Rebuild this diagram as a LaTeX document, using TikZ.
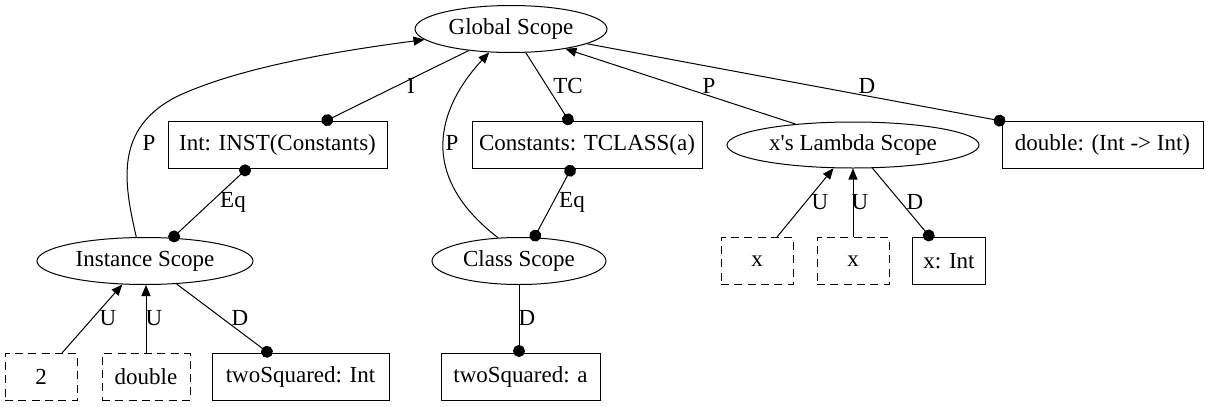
\documentclass[tikz,border=0pt]{standalone}
\usepackage{fontspec}
\setmainfont{Liberation Serif}[Ligatures=TeXOff]
\usetikzlibrary{shapes.geometric,arrows.meta}
\begin{document}
\begin{tikzpicture}[x=1pt,y=-1pt,
  every node/.style={font=\fontsize{23}{25}\selectfont},
  ell/.style={ellipse, draw, line width=1pt, minimum height=47pt, inner sep=0pt},
  box/.style={rectangle, draw, line width=1pt, minimum height=47pt, inner sep=0pt},
  dbox/.style={box, dash pattern=on 8pt off 5.3pt},
  lab/.style={inner sep=0pt},
  edge/.style={line width=1pt},
  tri/.style={edge, -{Triangle[length=11pt,width=9pt]}},
  dotend/.style={edge, shorten >=-4pt, -{Circle[length=12pt,width=12pt]}},
  dotboth/.style={edge, shorten >=-4pt, shorten <=-4pt, {Circle[length=12pt,width=12pt]}-{Circle[length=12pt,width=12pt]}}
]
\useasboundingbox (0,0) rectangle (1208,407);
% nodes
\node[ell, minimum width=192pt] (G) at (511,29) {Global Scope};
\node[box, minimum width=219pt] (INT) at (277.5,145) {Int: INST(Constants)};
\node[box, minimum width=230pt] (CON) at (587,145) {Constants: TCLASS(a)};
\node[ell, minimum width=252pt, minimum height=46pt] (L) at (853,145) {x's Lambda Scope};
\node[box, minimum width=201pt] (DBL) at (1102.5,145) {double: (Int -> Int)};
\node[ell, minimum width=216pt] (IS) at (145,261) {Instance Scope};
\node[ell, minimum width=174pt] (CS) at (519,261) {Class Scope};
\node[dbox, minimum width=72pt] (X1) at (757,261) {x};
\node[dbox, minimum width=72pt] (X2) at (853,261) {x};
\node[box, minimum width=73pt] (XI) at (949,261) {x: Int};
\node[dbox, minimum width=72pt] (TWO) at (41,377) {2};
\node[dbox, minimum width=88pt] (DB) at (146,377) {double};
\node[box, minimum width=177pt] (TSI) at (300.5,377) {twoSquared: Int};
\node[box, minimum width=159pt] (TSA) at (520.5,377) {twoSquared: a};
% edges
\draw[tri] (IS.110) .. controls (124,183) and (113,127) .. (180,95) .. controls (240,68) and (330,52) .. (G.187);
\draw[dotend] (G.207) -- ([xshift=48pt]INT.north);
\draw[dotboth] ([xshift=-31pt]INT.south) -- (IS.40);
\draw[tri] (CS.132) .. controls (410,170) and (445,100) .. (G.227);
\draw[dotend] (G.302) -- ([xshift=-18pt]CON.north);
\draw[dotboth] ([xshift=-16pt]CON.south) -- (CS.57);
\draw[tri] (L.160) -- (G.-20);
\draw[dotend] (G.-11) -- (DBL.north west);
\draw[tri] ([xshift=20pt]X1.north) -- (L.230);
\draw[tri] (X2.north) -- (L.south);
\draw[dotend] (L.-50) -- ([xshift=-19pt]XI.north);
\draw[tri] ([xshift=21pt]TWO.north) -- (IS.226);
\draw[tri] (DB.north) -- (DB.north |- IS.south);
\draw[dotend] (IS.-36) -- ([xshift=-32pt]TSI.north);
\draw[dotend] (CS.south) -- (CS.south |- TSA.north);
% labels
\node[lab] (l1) at (149,143) {P};
\node[lab] (l2) at (411,86) {I};
\node[lab] (l3) at (233,202) {Eq};
\node[lab] (l4) at (452,143) {P};
\node[lab] (l5) at (568,86) {TC};
\node[lab] (l6) at (572,202) {Eq};
\node[lab] (l7) at (709,86) {P};
\node[lab] (l8) at (867,86) {D};
\node[lab] (l9) at (820,202) {U};
\node[lab] (l10) at (860,202) {U};
\node[lab] (l11) at (915,202) {D};
\node[lab] (l12) at (108,318) {U};
\node[lab] (l13) at (154,318) {U};
\node[lab] (l14) at (240,318) {D};
\node[lab] (l15) at (527,318) {D};
\end{tikzpicture}
\end{document}
